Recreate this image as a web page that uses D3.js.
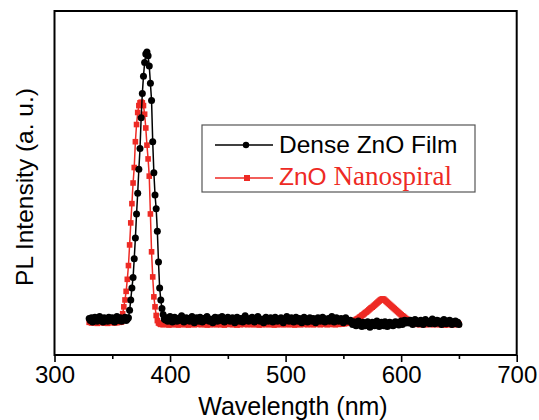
<!DOCTYPE html>
<html>
<head>
<meta charset="utf-8">
<script src="https://cdn.jsdelivr.net/npm/d3@7"></script>
<style>
  html, body { margin: 0; padding: 0; background: #fff; }
  svg { display: block; }
</style>
</head>
<body>
<svg id="chart" width="539" height="420"></svg>
<script>
// ---------------- DATA ----------------
const wlStart = 330;           // first wavelength (nm), 1 nm steps
const wlEnd = 650;
const xTicks = [300, 400, 500, 600, 700];
const xMinorTicks = [350, 450, 550, 650];
const seriesNames = ["Dense ZnO Film", "ZnO Nanospiral"];

// Dense ZnO Film, 330..650 nm (a.u.)
const denseFilm = [
  // 330-364
  106,100,108,96,104,110,102,98,106,112,100,104,96,108,102,106,98,110,104,100,
  108,102,96,106,112,100,104,108,98,102,106,110,100,104,108,
  // 365-395 (UV peak)
  130,160,195,225,280,340,410,470,540,600,690,760,810,850,875,881,870,840,790,740,
  620,530,465,425,360,270,195,160,135,118,105,
  // 396-555
  102,108,98,106,112,100,96,104,110,102,
  98,106,100,108,114,104,96,102,108,100,
  106,98,104,112,102,94,100,108,104,98,
  110,102,96,106,100,108,112,102,98,104,
  100,94,106,110,102,98,108,100,104,112,
  102,96,100,106,110,104,98,102,108,100,
  94,104,110,102,98,106,100,96,108,114,
  104,100,98,106,102,110,104,96,100,108,
  112,102,98,104,100,94,106,110,102,98,
  104,108,100,96,102,110,106,98,100,104,
  108,102,94,100,106,112,104,98,102,108,
  100,96,104,110,102,98,106,100,94,104,
  110,106,100,96,102,108,104,98,106,100,
  94,102,108,104,98,100,110,106,96,102,
  100,106,98,104,112,102,96,100,108,104,
  98,102,106,100,94,104,108,102,98,100,
  // 556-605
  101,95,89,97,91,85,93,99,87,91,
  83,95,89,85,93,97,87,81,91,95,
  89,85,93,99,87,83,91,95,89,85,
  97,91,83,89,95,87,93,85,89,97,
  91,95,87,93,99,89,95,101,93,99,
  // 606-650
  99,93,101,95,89,97,103,93,99,91,
  95,101,97,89,95,103,99,93,97,91,
  99,105,95,91,97,101,93,99,95,89,
  97,103,95,91,99,93,101,95,89,97,
  93,99,91,95,89
];

// ZnO Nanospiral, 330..650 nm (a.u.)
const nanospiral = [
  // 330-356
  95,97,93,96,98,94,96,92,97,95,98,94,96,93,97,95,92,96,98,94,
  95,97,93,96,94,97,95,
  // 357-390 (UV peak)
  96,96,120,140,160,185,220,260,320,384,440,500,545,620,670,705,725,733,735,733,
  725,700,660,610,570,520,410,300,227,169,140,115,100,93,
  // 391-556
  91,89,92,88,90,93,89,91,87,90,
  92,88,91,89,93,90,87,91,89,92,
  90,88,92,89,91,87,90,93,89,91,
  88,92,90,89,91,93,88,90,92,89,
  91,87,90,92,88,91,89,93,90,88,
  92,89,91,88,90,92,87,91,89,90,
  93,89,91,88,90,92,89,87,91,90,
  88,92,90,89,93,91,88,90,92,89,
  91,88,90,93,89,91,87,90,92,88,
  90,92,89,91,88,90,93,89,91,87,
  90,92,88,91,89,90,93,88,91,89,
  92,90,88,91,89,93,90,87,91,92,
  89,91,88,90,92,89,91,93,88,90,
  91,89,92,88,90,91,89,92,90,88,
  91,93,89,90,92,88,91,89,90,92,
  89,91,88,92,90,89,91,93,90,92,
  91,94,92,95,93,95,
  // 557-610 (visible emission)
  95,97,99,101,103,105,107,110,112,115,
  117,120,123,125,128,131,134,137,139,142,
  145,148,151,154,157,160,162,163,162,159,
  156,153,150,147,144,141,138,135,132,129,
  126,123,120,117,114,112,109,106,104,101,
  99,97,95,94,
  // 611-650
  93,90,92,89,91,88,92,90,93,89,
  91,88,90,92,89,91,93,88,90,92,
  89,91,88,90,93,89,91,87,90,92,
  88,91,89,92,90,88,91,93,89,90
];

// ---------------- LAYOUT ----------------
const svg = d3.select("#chart");
const pLeft = 54.5, pRight = 516.7, pTop = 11, pBottom = 355;
const RED = "#ee2a24";
const SANS = "'Liberation Sans', Arial, Helvetica, sans-serif";
const SERIF = "'Liberation Serif', 'Times New Roman', serif";

const x = d3.scaleLinear().domain([300, 700]).range([pLeft, pRight]);
const y = d3.scaleLinear().domain([0, 1000]).range([pBottom, pTop]);

const toPoints = arr => arr.map((v, i) => ({ wl: wlStart + i, v }));
const blackPts = toPoints(denseFilm);
const redPts = toPoints(nanospiral);

const line = d3.line().x(d => x(d.wl)).y(d => y(d.v));

// Red series (drawn first, under black)
const gRed = svg.append("g");
gRed.append("path").datum(redPts)
  .attr("d", line).attr("fill", "none")
  .attr("stroke", RED).attr("stroke-width", 1.5);
const sq = 5.6;
gRed.selectAll("rect").data(redPts).enter().append("rect")
  .attr("x", d => x(d.wl) - sq / 2).attr("y", d => y(d.v) - sq / 2)
  .attr("width", sq).attr("height", sq).attr("fill", RED);

// Black series
const gBlack = svg.append("g");
gBlack.append("path").datum(blackPts)
  .attr("d", line).attr("fill", "none")
  .attr("stroke", "#000").attr("stroke-width", 1.5);
gBlack.selectAll("circle").data(blackPts).enter().append("circle")
  .attr("cx", d => x(d.wl)).attr("cy", d => y(d.v))
  .attr("r", 3.5).attr("fill", "#000");

// Frame
svg.append("rect")
  .attr("x", pLeft).attr("y", pTop)
  .attr("width", pRight - pLeft).attr("height", pBottom - pTop)
  .attr("fill", "none").attr("stroke", "#000").attr("stroke-width", 2);

// X axis (major + minor)
const xAxis = svg.append("g").attr("transform", `translate(0,${pBottom})`)
  .call(d3.axisBottom(x).tickValues(xTicks).tickSize(7).tickPadding(4).tickFormat(d3.format("d")));
xAxis.select(".domain").remove();
xAxis.selectAll(".tick line").attr("stroke", "#000").attr("stroke-width", 1.6);
xAxis.selectAll(".tick text")
  .attr("font-family", SANS).attr("font-size", 24).attr("fill", "#000")
  .attr("dy", "0.71em");

const xMinor = svg.append("g").attr("transform", `translate(0,${pBottom})`)
  .call(d3.axisBottom(x).tickValues(xMinorTicks).tickSize(4).tickFormat(""));
xMinor.select(".domain").remove();
xMinor.selectAll(".tick line").attr("stroke", "#000").attr("stroke-width", 1.6);

// Axis titles
svg.append("text")
  .attr("x", 293).attr("y", 415)
  .attr("text-anchor", "middle")
  .attr("font-family", SANS).attr("font-size", 25).attr("fill", "#000")
  .text("Wavelength (nm)");

svg.append("text")
  .attr("transform", "translate(33,187) rotate(-90)")
  .attr("text-anchor", "middle")
  .attr("font-family", SANS).attr("font-size", 24.5).attr("fill", "#000")
  .text("PL Intensity (a. u.)");

// Legend
const lg = svg.append("g");
lg.append("rect")
  .attr("x", 202).attr("y", 125).attr("width", 273).attr("height", 67)
  .attr("fill", "#fff").attr("stroke", "#555").attr("stroke-width", 1.2);

lg.append("line").attr("x1", 215).attr("x2", 273).attr("y1", 145).attr("y2", 145)
  .attr("stroke", "#000").attr("stroke-width", 1.5);
lg.append("circle").attr("cx", 246).attr("cy", 145).attr("r", 3.2).attr("fill", "#000");
lg.append("text").attr("x", 279).attr("y", 153)
  .attr("font-family", SANS).attr("font-size", 24.5).attr("fill", "#000")
  .text(seriesNames[0]);

lg.append("line").attr("x1", 215).attr("x2", 273).attr("y1", 178).attr("y2", 178)
  .attr("stroke", RED).attr("stroke-width", 1.5);
lg.append("rect").attr("x", 247 - 3).attr("y", 178 - 3).attr("width", 6).attr("height", 6).attr("fill", RED);
const t2 = lg.append("text").attr("x", 279).attr("y", 185).attr("fill", RED);
t2.append("tspan").attr("font-family", SANS).attr("font-size", 24.5).text("ZnO ");
t2.append("tspan").attr("font-family", SERIF).attr("font-size", 27).text("Nanospiral");
</script>
</body>
</html>
